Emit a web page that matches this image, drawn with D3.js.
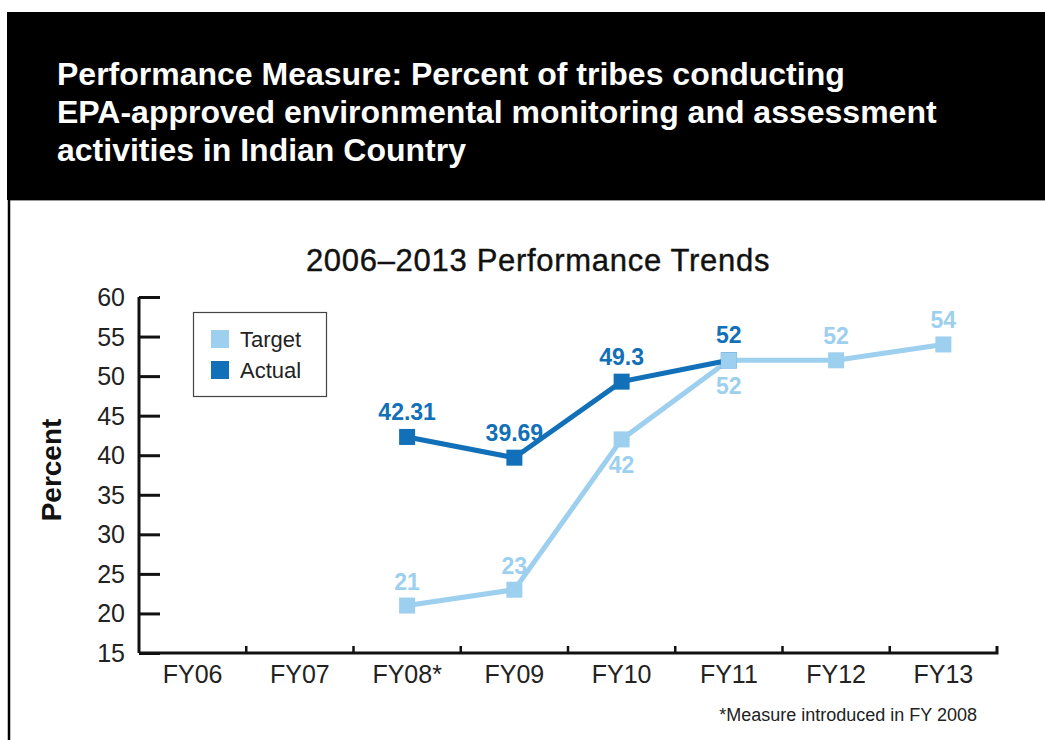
<!DOCTYPE html>
<html><head><meta charset="utf-8">
<script src="https://cdn.jsdelivr.net/npm/d3@7"></script>
<style>html,body{margin:0;padding:0;background:#fff;}svg{display:block;}</style>
</head><body>
<svg id="chart" width="1045" height="740"></svg>
<script>
const categories = ["FY06","FY07","FY08*","FY09","FY10","FY11","FY12","FY13"];
const targetValues = [null,null,21,23,42,52,52,54];
const actualValues = [null,null,42.31,39.69,49.3,52,null,null];
const targetLabels = ["","","21","23","42","52","52","54"];
const actualLabels = ["","","42.31","39.69","49.3","52","",""];
const targetLabelPos = ["","","above","above","below","below","above","above"];
const yTicks = [15,20,25,30,35,40,45,50,55,60];
const titleLines = ["Performance Measure: Percent of tribes conducting","EPA-approved environmental monitoring and assessment","activities in Indian Country"];
const subtitle = "2006\u20132013 Performance Trends";
const footnote = "*Measure introduced in FY 2008";
const seriesNames = ["Target","Actual"];

const colTarget = "#9dcfef", colActual = "#1170b8";
const font = "'Liberation Sans', Arial, Helvetica, sans-serif";
const svg = d3.select("#chart");

// header
svg.append("rect").attr("x",7).attr("y",12).attr("width",1038).attr("height",188).attr("fill","#000");
svg.append("line").attr("x1",9).attr("x2",1045).attr("y1",200.5).attr("y2",200.5).attr("stroke","#999").attr("stroke-width",1);
svg.append("line").attr("x1",9).attr("x2",9).attr("y1",200).attr("y2",740).attr("stroke","#000").attr("stroke-width",2.5);
titleLines.forEach((t,i)=>{
  svg.append("text").attr("x",57).attr("y",85+i*38).text(t)
    .attr("fill","#fff").attr("font-family",font).attr("font-weight","bold").attr("font-size",32);
});
svg.append("text").attr("x",538).attr("y",271).attr("text-anchor","middle").text(subtitle)
  .attr("fill","#111").attr("font-family",font).attr("font-size",31).attr("letter-spacing",0.7)
  .attr("stroke","#111").attr("stroke-width",0.4);

const x = d3.scaleBand().domain(categories).range([139,997]);
const y = d3.scaleLinear().domain([15,60]).range([653,297]);

// y axis
const gy = svg.append("g").attr("transform","translate(139,0)")
  .call(d3.axisRight(y).tickValues(yTicks).tickSize(21).tickFormat(d3.format("d")));
gy.selectAll(".tick text").remove();
gy.select(".domain").attr("d","M0,297V653");
gy.selectAll("line,path").attr("stroke","#111").attr("stroke-width",3);
yTicks.forEach(v=>{
  svg.append("text").attr("x",125).attr("y",y(v)).attr("dy","0.36em").attr("text-anchor","end")
    .text(v).attr("fill","#222").attr("font-family",font).attr("font-size",25);
});

// x axis
const gx = svg.append("g").attr("transform","translate(0,653)")
  .call(d3.axisBottom(x).tickSize(0).tickSizeOuter(0));
gx.select(".domain").attr("stroke","#111").attr("stroke-width",3).attr("d","M139,0H997V-7");
gx.selectAll(".tick text").attr("dy",0).attr("y",30).attr("fill","#222").attr("font-family",font).attr("font-size",25);
categories.slice(1).forEach(c=>{
  gx.append("line").attr("x1",x(c)).attr("x2",x(c)).attr("y1",0).attr("y2",-7).attr("stroke","#111").attr("stroke-width",2.5);
});

svg.append("text").attr("transform","translate(61,470) rotate(-90)").attr("text-anchor","middle")
  .text("Percent").attr("fill","#111").attr("font-family",font).attr("font-size",28).attr("font-weight","bold");

const cx = c => x(c) + x.bandwidth()/2;
function drawSeries(vals,color){
  const pts = categories.map((c,i)=>({c,v:vals[i]})).filter(d=>d.v!=null);
  svg.append("path").datum(pts).attr("fill","none").attr("stroke",color).attr("stroke-width",5)
    .attr("d",d3.line().x(d=>cx(d.c)).y(d=>y(d.v)));
  svg.selectAll(null).data(pts).enter().append("rect")
    .attr("x",d=>cx(d.c)-8).attr("y",d=>y(d.v)-8).attr("width",16).attr("height",16).attr("fill",color);
}
drawSeries(targetValues,colTarget);
drawSeries(actualValues,colActual);
svg.append("rect").attr("x",cx("FY11")-8).attr("y",y(52)-8).attr("width",16).attr("height",16).attr("fill",colTarget);

// labels
categories.forEach((c,i)=>{
  if(targetLabels[i]){
    const above = targetLabelPos[i]==="above";
    svg.append("text").attr("x",cx(c)).attr("y",above? y(targetValues[i])-16 : y(targetValues[i])+34)
      .attr("text-anchor","middle").text(targetLabels[i]).attr("fill",colTarget)
      .attr("font-family",font).attr("font-weight","bold").attr("font-size",23);
  }
  if(actualLabels[i]){
    svg.append("text").attr("x",cx(c)).attr("y",y(actualValues[i])-17)
      .attr("text-anchor","middle").text(actualLabels[i]).attr("fill",colActual)
      .attr("font-family",font).attr("font-weight","bold").attr("font-size",23);
  }
});

// legend
svg.append("rect").attr("x",193.5).attr("y",312.5).attr("width",133).attr("height",84).attr("fill","#fff").attr("stroke","#444").attr("stroke-width",1.2);
[colTarget,colActual].forEach((col,i)=>{
  svg.append("rect").attr("x",211).attr("y",330+i*31).attr("width",18).attr("height",18).attr("fill",col);
  svg.append("text").attr("x",240).attr("y",347+i*31).text(seriesNames[i]).attr("fill","#222")
    .attr("font-family",font).attr("font-size",22);
});

svg.append("text").attr("x",977).attr("y",721).attr("text-anchor","end").text(footnote)
  .attr("fill","#222").attr("font-family",font).attr("font-size",18);
</script>
</body></html>
